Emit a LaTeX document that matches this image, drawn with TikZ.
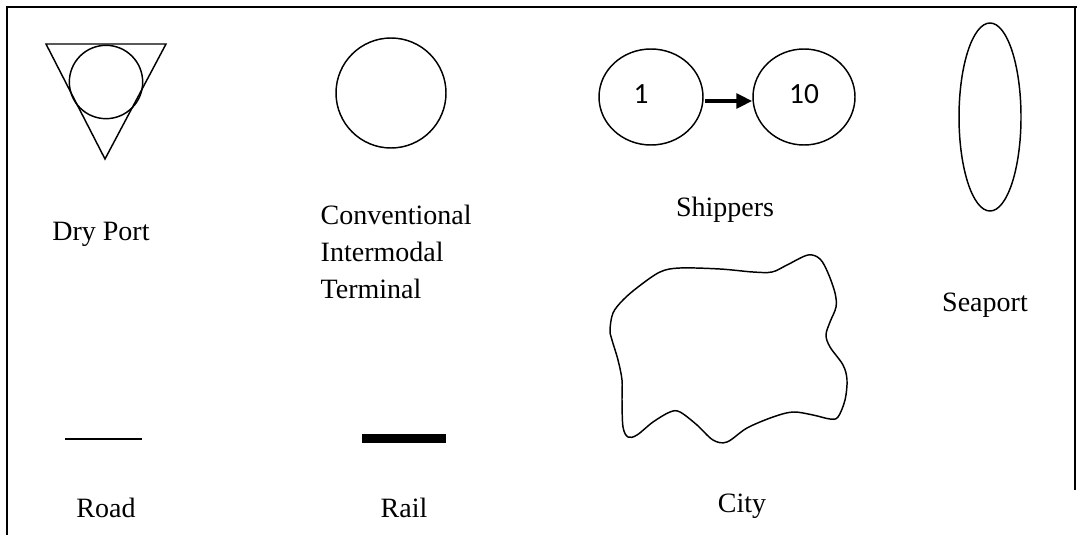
\documentclass[tikz,border=0pt]{standalone}
\usepackage{fontspec}
\setmainfont{Liberation Serif}
\newfontfamily\numfont{Carlito}
\usetikzlibrary{shapes.geometric,arrows.meta}

\tikzset{
    lbl/.style={inner sep=0pt, font=\fontsize{21}{28}\selectfont},
    num/.style={inner sep=0pt, font=\numfont\fontsize{22}{26}\selectfont},
    shipper/.style={draw, ellipse, line width=1.1pt, inner sep=0pt},
}

\begin{document}
\begin{tikzpicture}[x=0.75pt,y=-0.75pt,line width=1.1pt]
    \useasboundingbox (0,0) rectangle (1077,535);
    % frame
    \draw[line width=1.4pt] (7,535) -- (7,7) -- (1077,7);
    \draw[line width=1.4pt] (1075,7) -- (1075,490);
    % dry port
    \draw (46,44) -- (166,44) -- (105,159) -- cycle;
    \draw (106,82) circle[radius=27.5pt];
    \node[lbl, anchor=base] (dryport) at (101,240) {Dry Port};
    % conventional terminal
    \draw (391,93) circle[radius=41.25pt];
    \node[lbl, anchor=north west, align=left] (terminal) at (320,204) {Conventional\\Intermodal\\Terminal};
    % shippers
    \node[shipper, minimum width=78pt, minimum height=72pt] (s1) at (651,97) {};
    \node[shipper, minimum width=76.5pt, minimum height=72pt] (s10) at (804,97) {};
    \node[num] (n1) at (641,94) {1};
    \node[num] (n10) at (804,94) {10};
    \draw[line width=3pt, -{Triangle[length=12pt,width=11pt]}, shorten <=1pt]
        ([yshift=-3pt]s1.east) -- ([yshift=-3pt]s10.west);
    \node[lbl, anchor=base] (shippers) at (725,216) {Shippers};
    % seaport
    \draw (990,117) ellipse[x radius=23.25pt, y radius=70.5pt];
    \node[lbl, anchor=base] (seaport) at (985,311) {Seaport};
    % city
    \draw plot[smooth cycle, tension=0.55] coordinates {
        (610,330) (613,313) (623,300) (638,287) (660,272) (680,268)
        (720,269) (753,272) (772,272) (787,265) (808,255) (820,259)
        (828,273) (835,293) (836,307) (830,322) (826,335) (830,347)
        (843,365) (847,380) (845,400) (838,417) (830,419) (813,415)
        (793,412) (773,417) (747,428) (727,442) (713,440) (697,425)
        (680,412) (670,412) (653,422) (637,435) (628,437) (623,427)
        (622,400) (622,380) (618,360) (612,340)};
    \node[lbl, anchor=base] (city) at (742,512) {City};
    % road and rail
    \draw[line width=1.5pt] (65,439) -- (142,439);
    \draw[line width=6.75pt] (362,438.5) -- (446,438.5);
    \node[lbl, anchor=base] (road) at (106,517) {Road};
    \node[lbl, anchor=base] (rail) at (404,517) {Rail};
\end{tikzpicture}
\end{document}
